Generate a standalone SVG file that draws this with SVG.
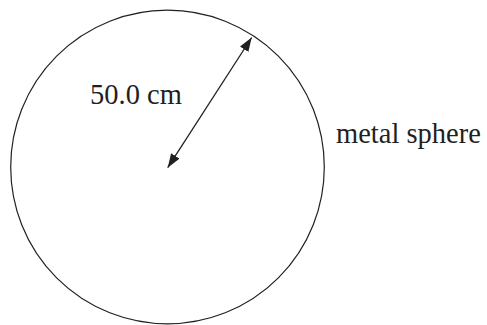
<svg xmlns="http://www.w3.org/2000/svg" width="487" height="325" viewBox="0 0 487 325">
<defs>
<style>
.lbl{font-family:"Liberation Serif","Times New Roman",serif;font-size:28.5px;fill:#231f20}
.ln{stroke:#231f20;fill:none}
</style>
<marker id="ah" viewBox="0 0 14 10" refX="14" refY="5" markerWidth="14" markerHeight="10" markerUnits="userSpaceOnUse" orient="auto-start-reverse">
<path d="M0,0 L14,5 L0,10 Z" fill="#231f20"/>
</marker>
</defs>
<rect width="487" height="325" fill="#fff"/>
<g id="sphere">
<circle class="ln" cx="167.5" cy="167" r="156.8" stroke-width="1.2"/>
<text class="lbl" x="336" y="143">metal sphere</text>
</g>
<g id="connectors">
<line class="ln" x1="167.7" y1="167.7" x2="251.7" y2="37.5" stroke-width="1.3" marker-start="url(#ah)" marker-end="url(#ah)"/>
</g>
<g id="radius-label">
<text class="lbl" x="90" y="104">50.0 cm</text>
</g>
</svg>
